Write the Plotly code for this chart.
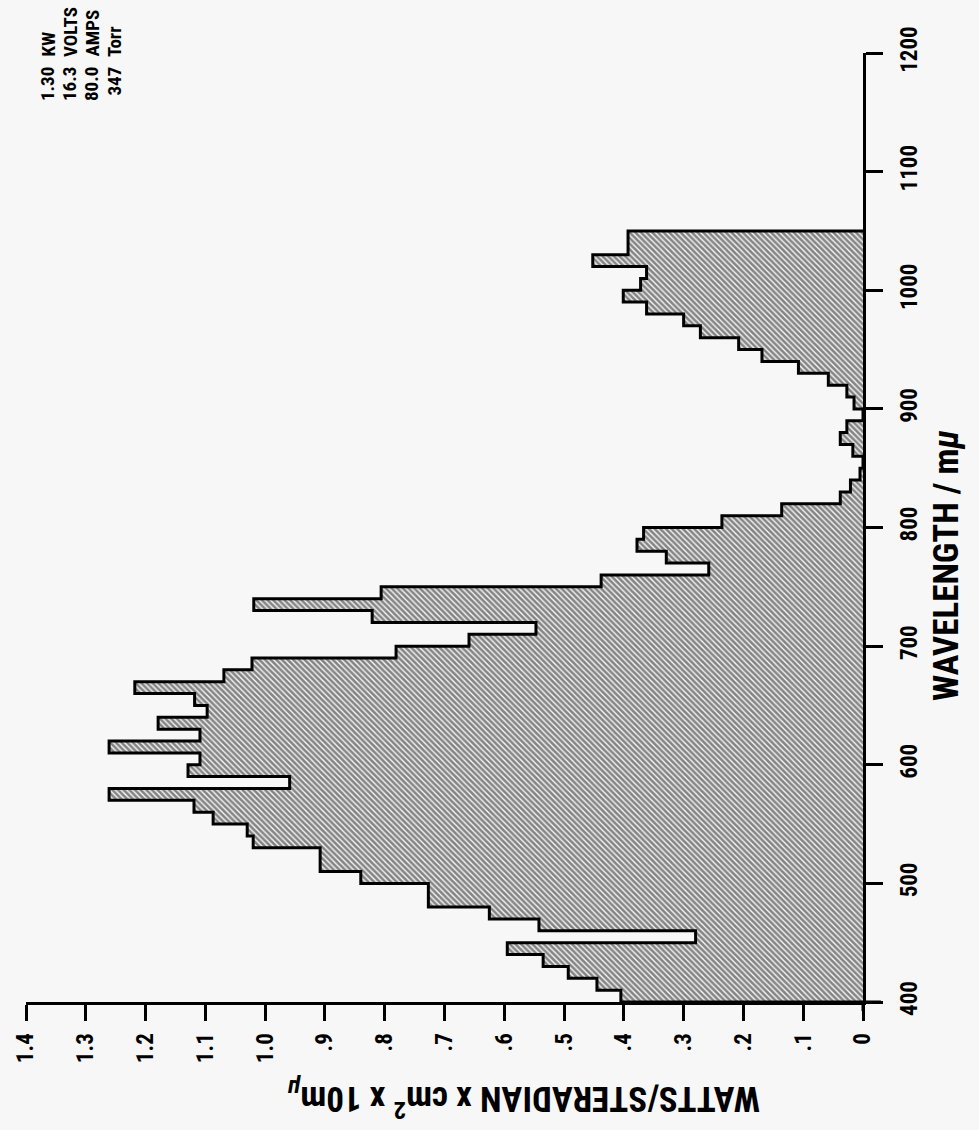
import plotly.graph_objects as go

# ---------------- data ----------------
bin_start = list(range(400, 1050, 10))          # lower edge of each 10 mμ band
intensity = [0.405, 0.445, 0.493, 0.535, 0.595, 0.28, 0.542, 0.625, 0.727, 0.727,
             0.84, 0.908, 0.908, 1.02, 1.03, 1.087, 1.119, 1.261, 0.959, 1.129,
             1.109, 1.261, 1.109, 1.179, 1.097, 1.118, 1.218, 1.069, 1.022, 0.781,
             0.659, 0.547, 0.821, 1.019, 0.806, 0.438, 0.258, 0.329, 0.378, 0.367,
             0.236, 0.136, 0.038, 0.021, 0.005, 0.0, 0.017, 0.038, 0.027, 0.0,
             0.015, 0.027, 0.058, 0.108, 0.169, 0.208, 0.272, 0.30, 0.362, 0.401,
             0.372, 0.362, 0.452, 0.393, 0.393]
bin_width = 10

x_tickvals = [0, 0.1, 0.2, 0.3, 0.4, 0.5, 0.6, 0.7, 0.8, 0.9, 1.0, 1.1, 1.2, 1.3, 1.4]
x_ticktext = ["0", ".1", ".2", ".3", ".4", ".5", ".6", ".7", ".8", ".9",
              "1.0", "1.1", "1.2", "1.3", "1.4"]
y_tickvals = [400, 500, 600, 700, 800, 900, 1000, 1100, 1200]

info_numbers = ["1.30", "16.3", "80.0", "347"]
info_units = ["KW", "VOLTS", "AMPS", "Torr"]

FONT = "Roboto Condensed, Liberation Sans Narrow, Roboto, sans-serif"
BG = "#f7f7f7"

# ---------------- figure ----------------
W, H = 979, 1130
L, R, T, B = 26, 116, 53, 128
pw, ph = W - L - R, H - T - B

fig = go.Figure()

centers = [s + bin_width / 2 for s in bin_start]
fig.add_trace(go.Bar(
    x=intensity, y=centers, orientation="h", width=bin_width,
    marker=dict(color=BG, line=dict(width=0),
                pattern=dict(shape="\\", size=4, solidity=0.65,
                             fgcolor="#111111", bgcolor=BG)),
    hoverinfo="skip", showlegend=False,
))

# outline of the histogram (step line)
ox = [0] + intensity + [0]
oy = [bin_start[0]] + bin_start + [bin_start[-1] + bin_width]
fig.add_trace(go.Scatter(
    x=ox, y=oy, mode="lines", line=dict(color="black", width=3, shape="vh"),
    hoverinfo="skip", showlegend=False,
))

axis_common = dict(showline=True, linewidth=3, linecolor="black",
                   ticks="outside", tickwidth=3, tickcolor="black",
                   showgrid=False, zeroline=False,
                   tickfont=dict(family=FONT, size=23, color="black", weight="bold"))

fig.update_xaxes(range=[1.4, 0], tickvals=x_tickvals, ticktext=x_ticktext,
                 tickangle=-90, ticklen=16, ticklabelstandoff=3, **axis_common)
fig.update_yaxes(range=[400, 1200], tickvals=y_tickvals, side="right",
                 tickangle=-90, ticklen=17, ticklabelstandoff=6, **axis_common)

def px2paper(px, py):
    return (px - L) / pw, (H - B - py) / ph

annotations = []
# axis titles
tx, ty = px2paper(946, 566)
annotations.append(dict(x=tx, y=ty, xref="paper", yref="paper", showarrow=False,
                        text="WAVELENGTH / m<i>μ</i>", textangle=-90,
                        font=dict(family=FONT, size=35, color="black", weight="bold"),
                        xanchor="center", yanchor="middle"))
tx, ty = px2paper(524, 1100)
annotations.append(dict(x=tx, y=ty, xref="paper", yref="paper", showarrow=False,
                        text="WATTS/STERADIAN x cm<sup>2</sup> x 10m<sub><i>μ</i></sub>",
                        textangle=180,
                        font=dict(family=FONT, size=35, color="black", weight="bold"),
                        xanchor="center", yanchor="middle"))
# operating conditions block (empty corner of the plot)
col_x = [48, 70, 92, 114]
split_y = 62
for cx, num, unit in zip(col_x, info_numbers, info_units):
    ax_, ay_ = px2paper(cx, split_y + 3)
    annotations.append(dict(x=ax_, y=ay_, xref="paper", yref="paper", showarrow=False,
                            text=num, textangle=-90, xanchor="center", yanchor="top",
                            font=dict(family=FONT, size=19, color="black", weight="bold")))
    ax_, ay_ = px2paper(cx, split_y - 3)
    annotations.append(dict(x=ax_, y=ay_, xref="paper", yref="paper", showarrow=False,
                            text=unit, textangle=-90, xanchor="center", yanchor="bottom",
                            font=dict(family=FONT, size=19, color="black", weight="bold")))

shapes = [
    dict(type="line", xref="paper", yref="paper", x0=1, x1=1 + 18 / pw, y0=0, y1=0,
         line=dict(color="black", width=3)),
    dict(type="line", xref="paper", yref="paper", x0=1, x1=1, y0=0, y1=-9 / ph,
         line=dict(color="black", width=3)),
]

fig.update_layout(
    width=W, height=H, margin=dict(l=L, r=R, t=T, b=B),
    paper_bgcolor=BG, plot_bgcolor=BG, bargap=0,
    annotations=annotations, shapes=shapes, showlegend=False,
)

fig.write_html("out.html")
